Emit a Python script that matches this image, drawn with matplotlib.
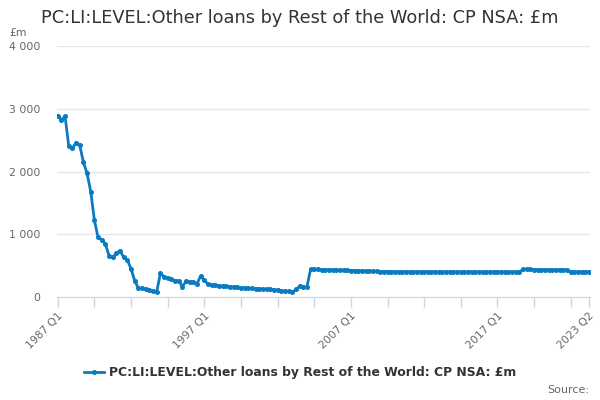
import numpy as np
from matplotlib import pyplot as plt
from matplotlib.ticker import FuncFormatter, FixedLocator
import matplotlib.transforms as mtransforms

# Quarterly values, 1987 Q1 .. 2023 Q2
vals_1987_1996 = [2890, 2820, 2880, 2410, 2370, 2460, 2420, 2150, 1970, 1680,
                  1230, 950, 910, 845, 660, 630, 695, 740, 630, 590,
                  450, 260, 140, 140, 125, 110, 95, 80, 375, 325,
                  305, 290, 260, 260, 165, 250, 240, 240, 210, 335]
vals_1997_2006 = [270, 205, 195, 185, 180, 175, 170, 165, 160, 155,
                  150, 145, 140, 137, 134, 130, 127, 124, 120, 115,
                  110, 100, 95, 90, 75, 120, 170, 160, 160, 440,
                  440, 440, 438, 436, 434, 432, 430, 428, 426, 424]
vals_2007_2016 = [422, 420, 418, 416, 414, 412, 410, 408, 406, 405,
                  404, 404, 403, 403, 403, 402, 402, 402, 402, 402,
                  402, 401, 401, 401, 401, 401, 401, 401, 401, 401,
                  401, 401, 401, 401, 401, 401, 401, 401, 401, 401]
vals_2017_2023 = [401, 401, 401, 401, 401, 401, 401, 440, 440, 440,
                  438, 438, 437, 436, 435, 435, 434, 433, 432, 432,
                  402, 402, 402, 402, 402, 402]
values = vals_1987_1996 + vals_1997_2006 + vals_2007_2016 + vals_2017_2023

quarters = ['%d Q%d' % (1987 + k // 4, k % 4 + 1) for k in range(len(values))]
label_idx = [0, 40, 80, 120, len(values) - 1]
tick_idx = list(range(0, len(values), 10)) + [len(values) - 1]

series_name = 'PC:LI:LEVEL:Other loans by Rest of the World: CP NSA: £m'
line_col = '#0a7bc2'
grey = '#666666'
axis_col = '#ccd6eb'

fig = plt.figure(figsize=(6, 4), dpi=100)
ax = fig.add_axes([0.095, 0.2575, 0.888, 0.6275])

x = np.arange(len(values))
ax.plot(x, values, '-o', color=line_col, linewidth=2, markersize=2.6, label=series_name)

ax.set_xlim(-0.2, len(values) - 0.8)
ax.set_ylim(0, 4000)
ax.set_yticks([0, 1000, 2000, 3000, 4000])
ax.yaxis.set_major_formatter(FuncFormatter(lambda v, p: ('%d' % v).replace('000', ' 000') if v >= 1000 else '%d' % v))
ax.grid(axis='y', color='#e6e6e6', linewidth=1)
ax.set_axisbelow(True)

ax.xaxis.set_major_locator(FixedLocator(tick_idx))
ax.set_xticklabels([quarters[i] if i in label_idx else '' for i in tick_idx],
                   rotation=45, ha='right', rotation_mode='anchor')
shift = mtransforms.ScaledTranslation(-0.045, 0, fig.dpi_scale_trans)
for lab in ax.get_xticklabels():
    lab.set_transform(lab.get_transform() + shift)

for s in ['top', 'right', 'left']:
    ax.spines[s].set_visible(False)
ax.spines['bottom'].set_color(axis_col)
ax.tick_params(axis='x', colors=axis_col, length=7, width=1, labelcolor=grey, labelsize=7.8, pad=3)
ax.tick_params(axis='y', length=0, labelcolor=grey, labelsize=7.8, pad=12)

fig.text(0.5, 0.955, series_name, ha='center', va='center', fontsize=12.8, color='#333333')
fig.text(0.015, 0.918, '£m', ha='left', va='center', fontsize=7.8, color=grey)
fig.text(0.982, 0.025, 'Source:', ha='right', va='center', fontsize=8, color=grey)

leg = fig.legend(loc='center', bbox_to_anchor=(0.5, 0.068), frameon=False,
                 prop={'weight': 'bold', 'size': 8.9}, handlelength=1.6, handletextpad=0.4)
for t in leg.get_texts():
    t.set_color('#333333')

plt.savefig('out.png', dpi=100)
